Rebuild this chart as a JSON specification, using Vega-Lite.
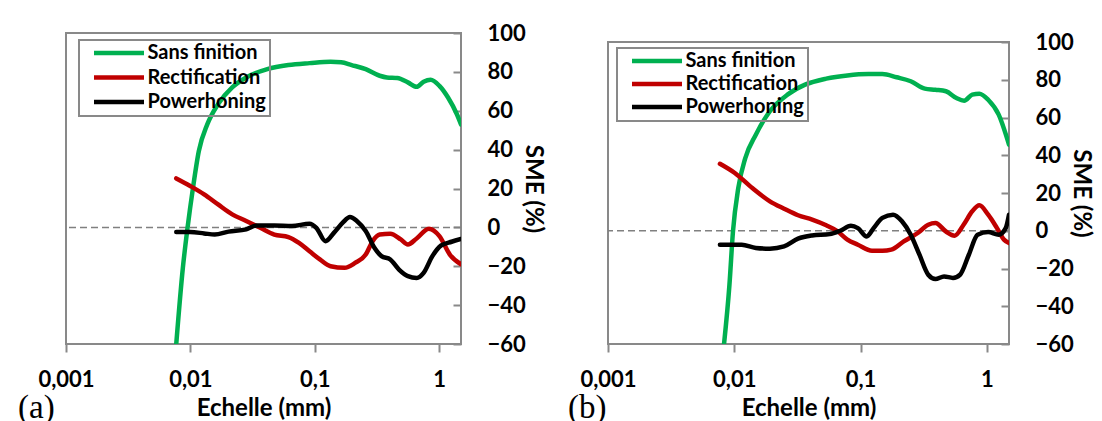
{
  "$schema": "https://vega.github.io/schema/vega-lite/v6.json",
  "background": "white",
  "padding": {"left": 17, "top": 21, "right": 0, "bottom": 0},
  "bounds": "flush",
  "spacing": 147,
  "datasets": {
    "a": [
      {"s": "Sans finition", "x": 0.0077, "y": -60}, {"s": "Sans finition", "x": 0.0087, "y": -20.9}, {"s": "Sans finition", "x": 0.0095, "y": 0}, {"s": "Sans finition", "x": 0.0105, "y": 20.4}, {"s": "Sans finition", "x": 0.0117, "y": 39.3}, {"s": "Sans finition", "x": 0.0137, "y": 53.1}, {"s": "Sans finition", "x": 0.0167, "y": 63.4}, {"s": "Sans finition", "x": 0.0217, "y": 72.0}, {"s": "Sans finition", "x": 0.0281, "y": 77.1}, {"s": "Sans finition", "x": 0.0416, "y": 81.4}, {"s": "Sans finition", "x": 0.0614, "y": 83.5}, {"s": "Sans finition", "x": 0.0908, "y": 84.5}, {"s": "Sans finition", "x": 0.134, "y": 85.2}, {"s": "Sans finition", "x": 0.163, "y": 84.9}, {"s": "Sans finition", "x": 0.198, "y": 83.5}, {"s": "Sans finition", "x": 0.257, "y": 81.4}, {"s": "Sans finition", "x": 0.333, "y": 78.0}, {"s": "Sans finition", "x": 0.38, "y": 77.1}, {"s": "Sans finition", "x": 0.461, "y": 76.8}, {"s": "Sans finition", "x": 0.561, "y": 74.6}, {"s": "Sans finition", "x": 0.66, "y": 72.3}, {"s": "Sans finition", "x": 0.751, "y": 74.9}, {"s": "Sans finition", "x": 0.855, "y": 75.9}, {"s": "Sans finition", "x": 1.006, "y": 72.8}, {"s": "Sans finition", "x": 1.18, "y": 66.8}, {"s": "Sans finition", "x": 1.39, "y": 58.2}, {"s": "Sans finition", "x": 1.5, "y": 53},
      {"s": "Rectification", "x": 0.0077, "y": 25.2}, {"s": "Rectification", "x": 0.00997, "y": 21.3}, {"s": "Rectification", "x": 0.0129, "y": 17.0}, {"s": "Rectification", "x": 0.0167, "y": 11.8}, {"s": "Rectification", "x": 0.0217, "y": 6.7}, {"s": "Rectification", "x": 0.0281, "y": 3.3}, {"s": "Rectification", "x": 0.0365, "y": -0.2}, {"s": "Rectification", "x": 0.0473, "y": -3.7}, {"s": "Rectification", "x": 0.0614, "y": -5.0}, {"s": "Rectification", "x": 0.0747, "y": -8.0}, {"s": "Rectification", "x": 0.0908, "y": -12.3}, {"s": "Rectification", "x": 0.11, "y": -16.5}, {"s": "Rectification", "x": 0.134, "y": -20.0}, {"s": "Rectification", "x": 0.174, "y": -20.8}, {"s": "Rectification", "x": 0.211, "y": -18.3}, {"s": "Rectification", "x": 0.257, "y": -14.0}, {"s": "Rectification", "x": 0.292, "y": -7.1}, {"s": "Rectification", "x": 0.333, "y": -3.7}, {"s": "Rectification", "x": 0.405, "y": -3.3}, {"s": "Rectification", "x": 0.492, "y": -6.2}, {"s": "Rectification", "x": 0.561, "y": -8.8}, {"s": "Rectification", "x": 0.66, "y": -5.7}, {"s": "Rectification", "x": 0.828, "y": -0.7}, {"s": "Rectification", "x": 1.006, "y": -4.5}, {"s": "Rectification", "x": 1.22, "y": -14.0}, {"s": "Rectification", "x": 1.5, "y": -19},
      {"s": "Powerhoning", "x": 0.0077, "y": -2.4}, {"s": "Powerhoning", "x": 0.00997, "y": -2.4}, {"s": "Powerhoning", "x": 0.0129, "y": -3.1}, {"s": "Powerhoning", "x": 0.0157, "y": -3.7}, {"s": "Powerhoning", "x": 0.0203, "y": -2.2}, {"s": "Powerhoning", "x": 0.0281, "y": -1.0}, {"s": "Powerhoning", "x": 0.0342, "y": 1.0}, {"s": "Powerhoning", "x": 0.0473, "y": 1.0}, {"s": "Powerhoning", "x": 0.0655, "y": 0.7}, {"s": "Powerhoning", "x": 0.0908, "y": 1.9}, {"s": "Powerhoning", "x": 0.103, "y": -0.2}, {"s": "Powerhoning", "x": 0.122, "y": -7.1}, {"s": "Powerhoning", "x": 0.143, "y": -2.7}, {"s": "Powerhoning", "x": 0.168, "y": 2.4}, {"s": "Powerhoning", "x": 0.192, "y": 5.3}, {"s": "Powerhoning", "x": 0.218, "y": 3.3}, {"s": "Powerhoning", "x": 0.257, "y": -1.9}, {"s": "Powerhoning", "x": 0.302, "y": -10.5}, {"s": "Powerhoning", "x": 0.344, "y": -14.8}, {"s": "Powerhoning", "x": 0.405, "y": -16.5}, {"s": "Powerhoning", "x": 0.476, "y": -21.7}, {"s": "Powerhoning", "x": 0.561, "y": -25.1}, {"s": "Powerhoning", "x": 0.66, "y": -26.0}, {"s": "Powerhoning", "x": 0.751, "y": -23.4}, {"s": "Powerhoning", "x": 0.883, "y": -14.8}, {"s": "Powerhoning", "x": 1.04, "y": -9.3}, {"s": "Powerhoning", "x": 1.26, "y": -7.4}, {"s": "Powerhoning", "x": 1.5, "y": -6.0}
    ],
    "b": [
      {"s": "Sans finition", "x": 0.0083, "y": -60}, {"s": "Sans finition", "x": 0.00916, "y": -28.6}, {"s": "Sans finition", "x": 0.00977, "y": -0.3}, {"s": "Sans finition", "x": 0.01076, "y": 22.6}, {"s": "Sans finition", "x": 0.01223, "y": 38.5}, {"s": "Sans finition", "x": 0.01482, "y": 50.9}, {"s": "Sans finition", "x": 0.01915, "y": 63.3}, {"s": "Sans finition", "x": 0.0264, "y": 72.1}, {"s": "Sans finition", "x": 0.0364, "y": 77.4}, {"s": "Sans finition", "x": 0.0535, "y": 80.6}, {"s": "Sans finition", "x": 0.0787, "y": 82.3}, {"s": "Sans finition", "x": 0.1156, "y": 83.0}, {"s": "Sans finition", "x": 0.149, "y": 83.0}, {"s": "Sans finition", "x": 0.193, "y": 81.3}, {"s": "Sans finition", "x": 0.25, "y": 79.2}, {"s": "Sans finition", "x": 0.323, "y": 75.3}, {"s": "Sans finition", "x": 0.392, "y": 74.7}, {"s": "Sans finition", "x": 0.475, "y": 73.9}, {"s": "Sans finition", "x": 0.575, "y": 70.3}, {"s": "Sans finition", "x": 0.662, "y": 68.9}, {"s": "Sans finition", "x": 0.767, "y": 72.1}, {"s": "Sans finition", "x": 0.873, "y": 72.6}, {"s": "Sans finition", "x": 1.026, "y": 69.4}, {"s": "Sans finition", "x": 1.243, "y": 61.5}, {"s": "Sans finition", "x": 1.5, "y": 45.6},
      {"s": "Rectification", "x": 0.0077, "y": 35.5}, {"s": "Rectification", "x": 0.0101, "y": 30.6}, {"s": "Rectification", "x": 0.0139, "y": 22.6}, {"s": "Rectification", "x": 0.01915, "y": 15.6}, {"s": "Rectification", "x": 0.0248, "y": 11.7}, {"s": "Rectification", "x": 0.032, "y": 8.2}, {"s": "Rectification", "x": 0.0414, "y": 5.9}, {"s": "Rectification", "x": 0.0535, "y": 2.9}, {"s": "Rectification", "x": 0.0649, "y": 0.0}, {"s": "Rectification", "x": 0.0787, "y": -4.7}, {"s": "Rectification", "x": 0.0953, "y": -7.4}, {"s": "Rectification", "x": 0.1233, "y": -10.6}, {"s": "Rectification", "x": 0.149, "y": -10.6}, {"s": "Rectification", "x": 0.1753, "y": -10.0}, {"s": "Rectification", "x": 0.22, "y": -5.6}, {"s": "Rectification", "x": 0.284, "y": -1.2}, {"s": "Rectification", "x": 0.344, "y": 3.2}, {"s": "Rectification", "x": 0.392, "y": 4.1}, {"s": "Rectification", "x": 0.475, "y": -0.4}, {"s": "Rectification", "x": 0.557, "y": -2.6}, {"s": "Rectification", "x": 0.655, "y": 3.2}, {"s": "Rectification", "x": 0.767, "y": 10.3}, {"s": "Rectification", "x": 0.873, "y": 13.5}, {"s": "Rectification", "x": 1.026, "y": 8.5}, {"s": "Rectification", "x": 1.205, "y": 1.4}, {"s": "Rectification", "x": 1.369, "y": -4.7}, {"s": "Rectification", "x": 1.5, "y": -6.5},
      {"s": "Powerhoning", "x": 0.0077, "y": -7.4}, {"s": "Powerhoning", "x": 0.01146, "y": -7.4}, {"s": "Powerhoning", "x": 0.01482, "y": -9.1}, {"s": "Powerhoning", "x": 0.01915, "y": -9.5}, {"s": "Powerhoning", "x": 0.0248, "y": -8.3}, {"s": "Powerhoning", "x": 0.032, "y": -4.2}, {"s": "Powerhoning", "x": 0.0414, "y": -2.5}, {"s": "Powerhoning", "x": 0.057, "y": -1.8}, {"s": "Powerhoning", "x": 0.0691, "y": 0.0}, {"s": "Powerhoning", "x": 0.0839, "y": 2.6}, {"s": "Powerhoning", "x": 0.0953, "y": 1.4}, {"s": "Powerhoning", "x": 0.112, "y": -3.0}, {"s": "Powerhoning", "x": 0.127, "y": 1.4}, {"s": "Powerhoning", "x": 0.149, "y": 6.8}, {"s": "Powerhoning", "x": 0.181, "y": 8.5}, {"s": "Powerhoning", "x": 0.213, "y": 5.0}, {"s": "Powerhoning", "x": 0.25, "y": -2.1}, {"s": "Powerhoning", "x": 0.293, "y": -12.7}, {"s": "Powerhoning", "x": 0.344, "y": -23.3}, {"s": "Powerhoning", "x": 0.392, "y": -25.6}, {"s": "Powerhoning", "x": 0.459, "y": -24.2}, {"s": "Powerhoning", "x": 0.54, "y": -25.0}, {"s": "Powerhoning", "x": 0.614, "y": -23.3}, {"s": "Powerhoning", "x": 0.721, "y": -12.7}, {"s": "Powerhoning", "x": 0.846, "y": -2.1}, {"s": "Powerhoning", "x": 1.026, "y": -0.7}, {"s": "Powerhoning", "x": 1.243, "y": -2.1}, {"s": "Powerhoning", "x": 1.413, "y": 1.4}, {"s": "Powerhoning", "x": 1.5, "y": 8.5}
    ]
  },
  "resolve": {"scale": {"color": "independent", "x": "independent", "y": "independent"}},
  "hconcat": [
    {
      "width": 395,
      "height": 311,
      "title": {"text": "(a)", "orient": "bottom", "anchor": "start", "frame": "group", "offset": -28, "dx": -48, "font": "Liberation Serif", "fontSize": 33, "fontWeight": "normal", "color": "black"},
      "layer": [
        {
          "data": {"values": [{}]},
          "mark": {"type": "rule", "strokeDash": [7, 4], "color": "#808080", "strokeWidth": 1.5},
          "encoding": {"y": {"datum": 0, "type": "quantitative"}}
        },
        {
          "data": {"name": "a"},
          "mark": {"type": "line", "interpolate": "monotone", "strokeWidth": 4.5, "clip": true, "strokeCap": "round"},
          "encoding": {
            "x": {"field": "x", "type": "quantitative", "scale": {"type": "log", "domain": [0.001, 1.5], "nice": false}, "axis": {"values": [0.001, 0.01, 0.1, 1], "labelExpr": "replace(toString(datum.value), '.', ',')", "title": "Echelle (mm)", "tickSize": 8, "labelPadding": 17, "labelOverlap": false, "labelFlush": false}},
            "y": {"field": "y", "type": "quantitative", "scale": {"domain": [-60, 100], "nice": false}, "axis": {"orient": "right", "values": [-60, -40, -20, 0, 20, 40, 60, 80, 100], "tickCount": 20, "title": "SME (%)", "tickSize": -8, "labelPadding": 34, "titlePadding": -5, "labelOverlap": false, "labelBound": false, "labelFlush": false}},
            "color": {"field": "s", "type": "nominal", "scale": {"domain": ["Sans finition", "Rectification", "Powerhoning"], "range": ["#00B050", "#C00000", "#000000"]}, "legend": {"orient": "none", "legendX": 13, "legendY": 7, "rowPadding": 3.5}}
          }
        }
      ]
    },
    {
      "bounds": "flush",
      "spacing": 0,
      "vconcat": [
        {
          "width": 401,
          "height": 9,
          "view": {"stroke": null},
          "data": {"values": [{}]},
          "mark": {"type": "point", "opacity": 0}
        },
        {
          "width": 401,
          "height": 302,
          "title": {"text": "(b)", "orient": "bottom", "anchor": "start", "frame": "group", "offset": -28, "dx": -40, "font": "Liberation Serif", "fontSize": 33, "fontWeight": "normal", "color": "black"},
          "layer": [
            {
              "data": {"values": [{}]},
              "mark": {"type": "rule", "strokeDash": [7, 4], "color": "#808080", "strokeWidth": 1.5},
              "encoding": {"y": {"datum": 0, "type": "quantitative"}}
            },
            {
              "data": {"name": "b"},
              "mark": {"type": "line", "interpolate": "monotone", "strokeWidth": 4.5, "clip": true, "strokeCap": "round"},
              "encoding": {
                "x": {"field": "x", "type": "quantitative", "scale": {"type": "log", "domain": [0.001, 1.5], "nice": false}, "axis": {"values": [0.001, 0.01, 0.1, 1], "labelExpr": "replace(toString(datum.value), '.', ',')", "title": "Echelle (mm)", "tickSize": 8, "labelPadding": 17, "labelOverlap": false, "labelFlush": false}},
                "y": {"field": "y", "type": "quantitative", "scale": {"domain": [-60, 100], "nice": false}, "axis": {"orient": "right", "values": [-60, -40, -20, 0, 20, 40, 60, 80, 100], "tickCount": 20, "title": "SME (%)", "tickSize": -8, "labelPadding": 34, "titlePadding": -5, "labelOverlap": false, "labelBound": false, "labelFlush": false}},
                "color": {"field": "s", "type": "nominal", "scale": {"domain": ["Sans finition", "Rectification", "Powerhoning"], "range": ["#00B050", "#C00000", "#000000"]}, "legend": {"orient": "none", "legendX": 9, "legendY": 15, "rowPadding": 2}}
              }
            }
          ]
        }
      ]
    }
  ],
  "config": {
    "font": "Lato",
    "view": {"stroke": "#898989", "strokeWidth": 2},
    "axis": {
      "grid": false,
      "domain": false,
      "tickColor": "#898989",
      "tickWidth": 2,
      "labelFont": "Lato",
      "labelFontSize": 22,
      "labelFontWeight": "bold",
      "labelColor": "black",
      "titleFont": "Lato",
      "titleFontSize": 24,
      "titleFontWeight": "bold",
      "titleColor": "black",
      "titlePadding": 6
    },
    "legend": {
      "title": null,
      "strokeColor": "#898989",
      "strokeWidth": 2,
      "padding": 3.5,
      "clipHeight": 19,
      "symbolType": "stroke",
      "symbolSize": 2500,
      "symbolStrokeWidth": 4.5,
      "symbolOffset": 9,
      "labelOffset": 1,
      "labelFont": "Lato",
      "labelFontSize": 20,
      "labelFontWeight": "bold",
      "labelColor": "black"
    }
  }
}
